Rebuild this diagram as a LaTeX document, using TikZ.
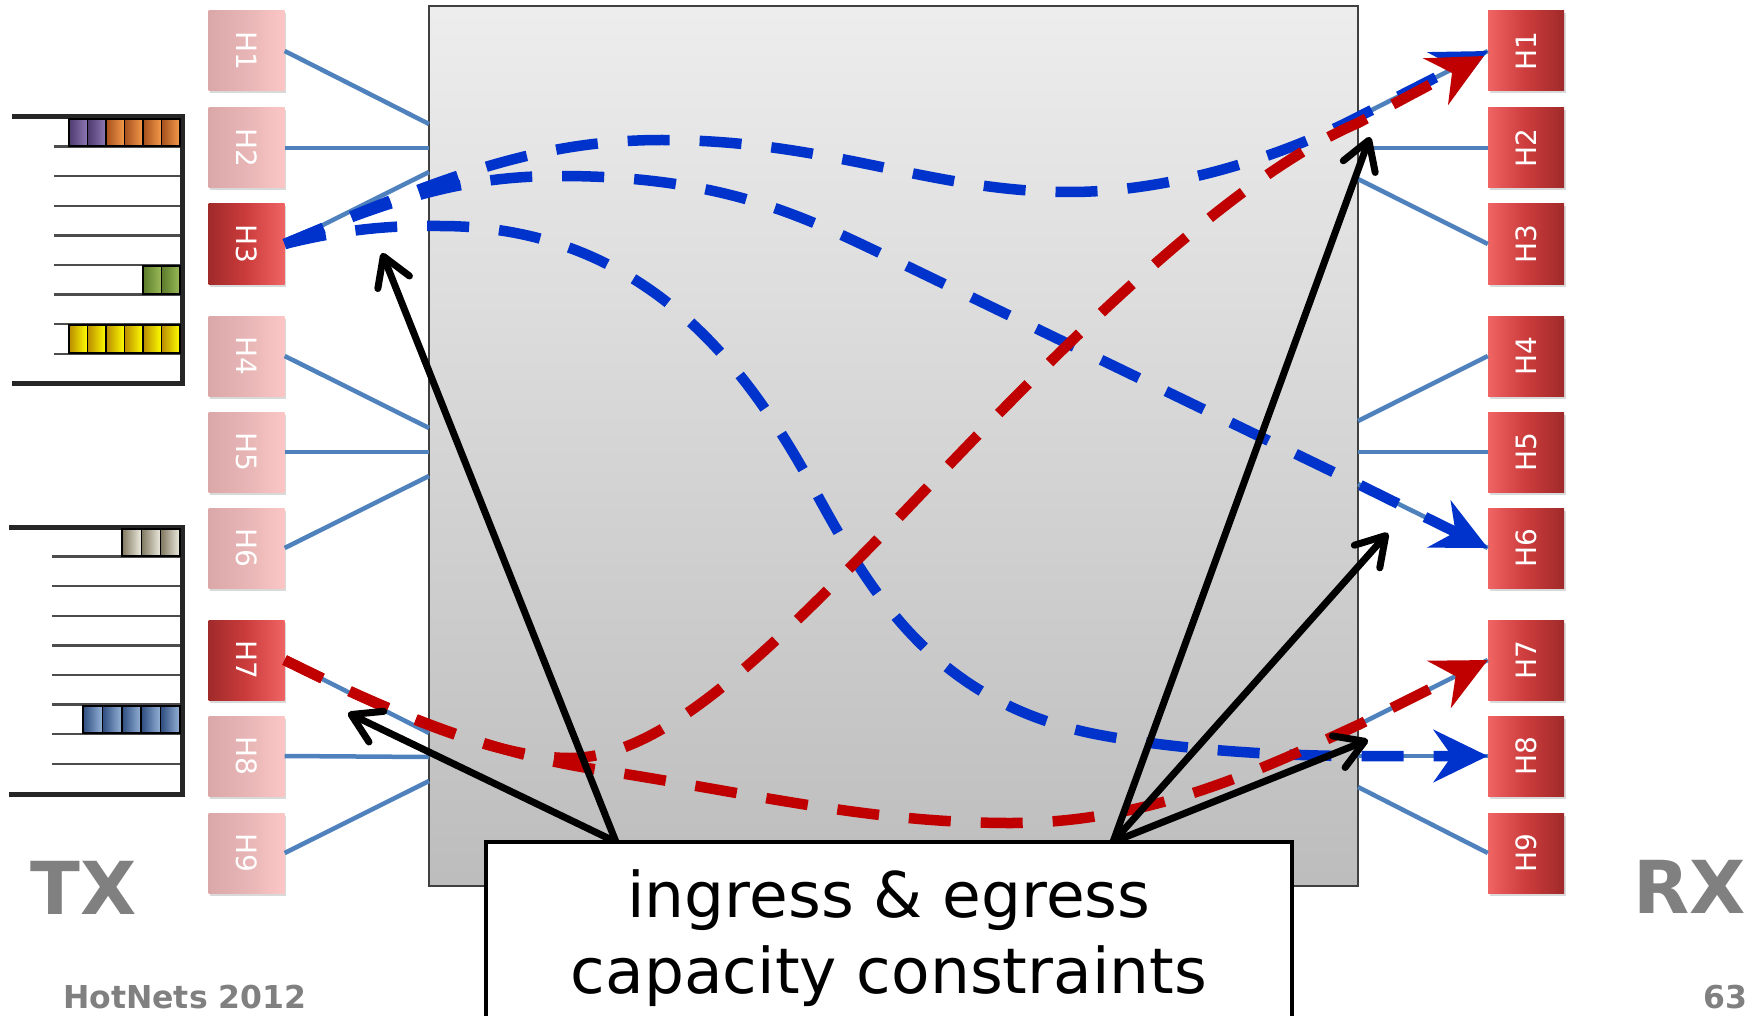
\documentclass[tikz,border=0pt]{standalone}
\usepackage{fontspec}
\setmainfont{DejaVu Sans}
\usetikzlibrary{arrows.meta,shadows}

\definecolor{linkblue}{HTML}{4F81BD}
\definecolor{flowblue}{HTML}{0033CC}
\definecolor{flowred}{HTML}{C00000}
\definecolor{taggray}{HTML}{808080}
\definecolor{idleL}{RGB}{218,168,168}
\definecolor{idleM}{RGB}{231,181,181}
\definecolor{idleR}{RGB}{252,198,198}
\definecolor{busyL}{RGB}{160,42,42}
\definecolor{busyM}{RGB}{204,60,60}
\definecolor{busyR}{RGB}{240,100,100}

\begin{document}
\begin{tikzpicture}[x=1pt, y=-1pt,
  hostbox/.style={minimum width=76pt, minimum height=80pt, inner sep=0pt, text=white,
    font=\fontsize{28}{28}\selectfont,
    drop shadow={shadow xshift=1.5pt, shadow yshift=-2.5pt, opacity=0.3}},
  idle/.style={hostbox, left color=idleL, right color=idleR, middle color=idleM},
  busy/.style={hostbox, left color=busyL, right color=busyR, middle color=busyM},
  rxhost/.style={hostbox, left color=busyR, right color=busyL, middle color=busyM},
  hostlink/.style={linkblue, line width=4.5pt},
  flowline/.style={line width=10.5pt, dash pattern=on 42pt off 30pt,
    -{Stealth[length=54pt, width=52pt, inset=18pt]}},
  pointer/.style={line width=7pt, line cap=round,
    -{Straight Barb[length=28pt, width=34pt, line cap=round, line join=round]}},
  qwall/.style={line width=5pt, black!85},
  qslot/.style={line width=2.5pt, black!70},
  pkt/.style={draw=black, line width=1.5pt},
  notebox/.style={draw, fill=white, line width=4pt, minimum width=806pt, minimum height=188pt},
  notetext/.style={inner sep=0pt, font=\fontsize{63}{76}\selectfont},
  bigtag/.style={inner sep=0pt, text=taggray, font=\fontsize{73}{73}\selectfont\bfseries},
  foot/.style={inner sep=0pt, text=taggray, font=\fontsize{31.5}{31.5}\selectfont\bfseries}
]
\useasboundingbox (0,0) rectangle (1755,1016);

% sender queues
\draw[qwall] (12,117) -- (182,117) -- (182,383) -- (12,383);
\foreach \k in {1,...,8}
  \draw[qslot] (54,{117+29.6*\k}) -- (180,{117+29.6*\k});
\foreach \k in {0,...,3}
  \draw[pkt, left color={rgb,255:red,165;green,80;blue,30}, right color={rgb,255:red,245;green,155;blue,75}]
    ({180-18.5*(\k+1)},119) rectangle ({180-18.5*\k},146);
\foreach \k in {4,5}
  \draw[pkt, left color={rgb,255:red,78;green,59;blue,110}, right color={rgb,255:red,142;green,120;blue,180}]
    ({180-18.5*(\k+1)},119) rectangle ({180-18.5*\k},146);
\foreach \k in {0,1}
  \draw[pkt, left color={rgb,255:red,90;green,122;blue,42}, right color={rgb,255:red,155;green,187;blue,89}]
    ({180-18.5*(\k+1)},266) rectangle ({180-18.5*\k},294);
\foreach \k in {0,...,5}
  \draw[pkt, left color={rgb,255:red,185;green,140;blue,0}, right color={rgb,255:red,255;green,255;blue,0}]
    ({180-18.5*(\k+1)},325) rectangle ({180-18.5*\k},353);

\draw[qwall] (9,527) -- (182,527) -- (182,794) -- (9,794);
\foreach \k in {1,...,8}
  \draw[qslot] (52,{527+29.6*\k}) -- (180,{527+29.6*\k});
\foreach \k in {0,1,2}
  \draw[pkt, left color={rgb,255:red,128;green,120;blue,96}, right color={rgb,255:red,238;green,236;blue,225}]
    ({180-19.3*(\k+1)},529) rectangle ({180-19.3*\k},556);
\foreach \k in {0,...,4}
  \draw[pkt, left color={rgb,255:red,46;green,76;blue,126}, right color={rgb,255:red,149;green,179;blue,215}]
    ({180-19.4*(\k+1)},706) rectangle ({180-19.4*\k},733);

% switch fabric
\node[draw=black!75, line width=1.5pt, top color=black!7, bottom color=black!26,
  minimum width=929pt, minimum height=880pt, inner sep=0pt] (fabric) at (893.5,446) {};

\foreach \i/\y in {1/124,2/148,3/172,4/428,5/452,6/476,7/733,8/757,9/781}
  \coordinate (in\i) at (429,\y);
\foreach \i/\y in {1/117,2/148,3/179,4/421,5/452,6/484,7/725,8/756,9/787}
  \coordinate (out\i) at (1358,\y);

% hosts
\foreach \i/\y/\s in {1/51/idle,2/148/idle,3/244/busy,4/356/idle,5/452/idle,6/548/idle,7/660/busy,8/756/idle,9/853/idle}
  \node[\s] (L\i) at (246.5,\y) {\rotatebox{-90}{H\i}};
\foreach \i/\y in {1/51,2/148,3/244,4/356,5/452,6/548,7/660,8/756,9/853}
  \node[rxhost] (R\i) at (1526,\y) {\rotatebox{90}{H\i}};

\foreach \i in {1,...,9} {
  \draw[hostlink] (L\i.east) -- (in\i);
  \draw[hostlink] (out\i) -- (R\i.west);
}

% flows
\draw[flowline, flowblue] (L3.east) .. controls (435,181) and (532,140) .. (662,140)
  .. controls (830,140) and (930,192) .. (1070,192)
  .. controls (1170,192) and (1281,157) .. (out1) -- (R1.west);
\draw[flowline, flowblue] (L3.east) .. controls (400,195) and (470,176) .. (560,176)
  .. controls (720,176) and (800,215) .. (880,253) -- (out6) -- (R6.west);
\draw[flowline, flowblue] (L3.east) .. controls (340,230) and (390,225) .. (440,226)
  .. controls (660,226) and (760,390) .. (820,500)
  .. controls (875,600) and (940,705) .. (1100,735)
  .. controls (1180,750) and (1280,756) .. (out8) -- (R8.west);
\draw[flowline, flowred] (L7.east) .. controls (405,720) and (500,758) .. (570,758)
  .. controls (660,758) and (760,660) .. (880,537)
  .. controls (980,434) and (1200,190) .. ([yshift=-6pt]out1) -- ([xshift=-4pt,yshift=-5pt]R1.west);
\draw[flowline, flowred] (L7.east) .. controls (405,720) and (500,755) .. (600,770)
  .. controls (750,793) and (870,823) .. (1010,823)
  .. controls (1150,823) and (1260,770) .. (out7) -- (R7.west);

% constraint pointers
\coordinate (pl) at (616,842);
\coordinate (pr) at (1113,842);
\coordinate (tin3) at (382,253);
\coordinate (tin7) at (348,713);
\coordinate (tout1) at (1370,137);
\coordinate (tout6) at (1388,533);
\coordinate (tout8) at (1368,740);
\draw[pointer] (pl) -- (tin3);
\draw[pointer] (pl) -- (tin7);
\draw[pointer] (pr) -- (tout1);
\draw[pointer] (pr) -- (tout6);
\draw[pointer] (pr) -- (tout8);

\node[notebox] (note) at (889,936) {};
\node[notetext, anchor=base] (cap1) at (889,917) {ingress \& egress};
\node[notetext, anchor=base] (cap2) at (889,993) {capacity constraints};

\node[bigtag, anchor=base] (tx) at (84,914) {TX};
\node[bigtag, anchor=base] (rx) at (1690,913) {RX};
\node[foot, anchor=base west] (venue) at (63,1008) {HotNets 2012};
\node[foot, anchor=base east] (page) at (1748,1008) {63};
\end{tikzpicture}
\end{document}
